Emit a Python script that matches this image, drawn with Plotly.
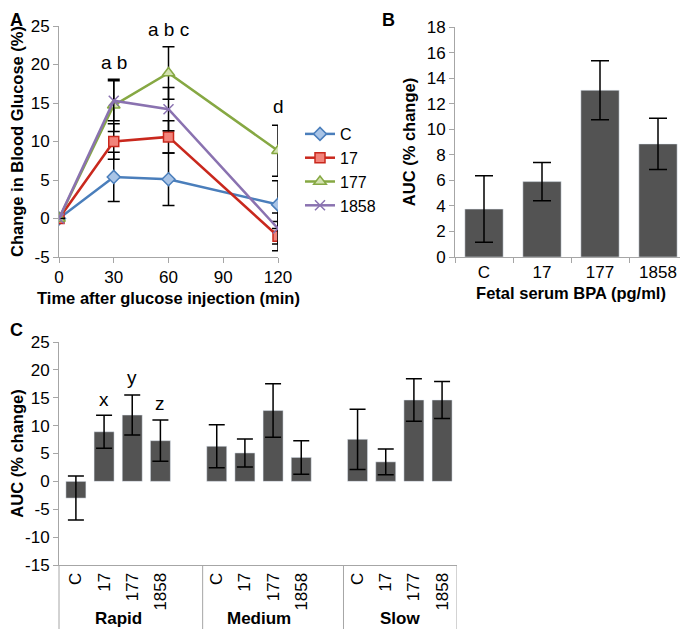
import plotly.graph_objects as go

# ---- data -------------------------------------------------------------
time_min = [0, 30, 60, 120]
groups = ["C", "17", "177", "1858"]

glucose = {
    "C":    [0, 5.4, 5.1, 1.8],
    "17":   [0, 10.0, 10.6, -2.3],
    "177":  [0, 14.7, 18.9, 8.8],
    "1858": [0, 15.3, 14.2, -1.3],
}
glucose_err = {
    "C":    [0, 3.2, 3.4, 3.1],
    "17":   [0, 2.3, 2.1, 1.9],
    "177":  [0, 3.4, 3.4, 3.3],
    "1858": [0, 2.6, 2.8, 2.0],
}
ab_letters = ["a b", "a b c", "d"]
ab_letter_x = [30, 60, 120]
ab_letter_y = [20.2, 24.6, 14.6]

auc_total = [3.75, 5.9, 13.05, 8.85]
auc_total_err = [2.6, 1.5, 2.3, 2.0]

speeds = ["Rapid", "Medium", "Slow"]
auc_speed = {
    "Rapid":  [-3.0, 8.9, 11.9, 7.3],
    "Medium": [6.3, 5.1, 12.7, 4.3],
    "Slow":   [7.55, 3.5, 14.6, 14.6],
}
auc_speed_err = {
    "Rapid":  [3.95, 2.95, 3.6, 3.7],
    "Medium": [3.85, 2.5, 4.8, 3.0],
    "Slow":   [5.4, 2.3, 3.8, 3.3],
}
speed_letters = ["x", "y", "z"]
speed_letter_x = [1, 2, 3]
speed_letter_y = [14.7, 18.7, 14.0]

ticks_a = [-5, 0, 5, 10, 15, 20, 25]
ticks_c = [-15, -10, -5, 0, 5, 10, 15, 20, 25]

# ---- style ------------------------------------------------------------
FONT = "Liberation Sans, Arial, sans-serif"
AXIS_GREY = "#a6a6a6"
BAR = "#535353"
LINE_STYLE = {
    "C":    dict(color="#4a7ebb", fill="#a9c4e6", symbol="diamond", size=10),
    "17":   dict(color="#c9281d", fill="#f2837a", symbol="square", size=10),
    "177":  dict(color="#86a843", fill="#d3e2b0", symbol="triangle-up", size=11),
    "1858": dict(color="#8a72b0", fill="#8a72b0", symbol="x-thin", size=10),
}

W, H = 688, 629
OFF = 8  # page body margin shifts the figure by 8px


def px_x(p):
    return (p - OFF) / W


def px_y(p):
    return 1 - (p - OFF) / H


fig = go.Figure()

# panel A: lines
for g in groups:
    st = LINE_STYLE[g]
    fig.add_trace(go.Scatter(
        x=time_min, y=glucose[g], name=g, mode="lines+markers",
        line=dict(color=st["color"], width=2.5),
        marker=dict(symbol=st["symbol"], size=st["size"], color=st["fill"],
                    line=dict(color=st["color"], width=1.5)),
        error_y=dict(type="data", array=glucose_err[g], color="black",
                     thickness=1.5, width=6),
        xaxis="x", yaxis="y",
    ))

# panel B: total AUC
fig.add_trace(go.Bar(
    x=groups, y=auc_total, marker_color=BAR, width=0.66, showlegend=False,
    error_y=dict(type="data", array=auc_total_err, color="black",
                 thickness=1.5, width=9),
    xaxis="x2", yaxis="y2",
))

# panel C: AUC by speed, each group gets 5 slots (4 bars + gap)
tick_pos, tick_txt = [], []
for k, s in enumerate(speeds):
    pos = [k * 5 + i for i in range(len(groups))]
    tick_pos += pos
    tick_txt += groups
    fig.add_trace(go.Bar(
        x=pos, y=auc_speed[s], marker_color=BAR, width=0.71, showlegend=False,
        error_y=dict(type="data", array=auc_speed_err[s], color="black",
                     thickness=1.5, width=8),
        xaxis="x3", yaxis="y3",
    ))

tick_font = dict(family=FONT, size=17, color="black")
title_font = dict(family=FONT, size=16.5, color="black")
ax_common = dict(showline=True, linecolor=AXIS_GREY, linewidth=1, ticks="outside",
                 tickcolor=AXIS_GREY, ticklen=5, showgrid=False, zeroline=False,
                 tickfont=tick_font, automargin=False)

annotations = []
for t, x, y in zip(ab_letters, ab_letter_x, ab_letter_y):
    annotations.append(dict(text=t, x=x, y=y, xref="x", yref="y", showarrow=False,
                            font=dict(family=FONT, size=19, color="black")))
annotations.append(dict(text="e", x="177", y=16.6, xref="x2", yref="y2", showarrow=False,
                        font=dict(family=FONT, size=19, color="black")))
for t, x, y in zip(speed_letters, speed_letter_x, speed_letter_y):
    annotations.append(dict(text=t, x=x, y=y, xref="x3", yref="y3", showarrow=False,
                            font=dict(family=FONT, size=19, color="black")))
for k, s in enumerate(speeds):
    annotations.append(dict(text="<b>%s</b>" % s, x=k * 5 + 1.5, y=px_y(618),
                            xref="x3", yref="paper", yanchor="middle", showarrow=False,
                            font=dict(family=FONT, size=17, color="black")))
# panel letters (pinned to the top/left edge of the figure)
for lab, x, y, xa, ya in [("A", 8, 8, "left", "top"), ("B", 388, 8, "center", "top"),
                          ("C", 8, 330, "left", "middle")]:
    annotations.append(dict(text="<b>%s</b>" % lab, x=px_x(x), y=px_y(y),
                            xref="paper", yref="paper", xanchor=xa, yanchor=ya,
                            showarrow=False,
                            font=dict(family=FONT, size=18, color="black")))

# group dividers under panel C
shapes = []
for xv in [4.5, 9.5, 13.53]:
    shapes.append(dict(type="line", xref="x3", yref="paper", x0=xv, x1=xv,
                       y0=px_y(565), y1=0, line=dict(color=AXIS_GREY, width=1)))
shapes.append(dict(type="line", xref="paper", yref="paper", x0=px_x(59), x1=px_x(59),
                   y0=px_y(565), y1=0, line=dict(color=AXIS_GREY, width=1)))

fig.update_layout(
    width=W, height=H,
    margin=dict(l=0, r=0, t=0, b=0, autoexpand=False),
    paper_bgcolor="white", plot_bgcolor="white",
    font=dict(family=FONT, color="black"),
    xaxis=dict(domain=[px_x(59), px_x(278)], range=[0, 120], tickvals=[0, 30, 60, 90, 120],
               title=dict(text="<b>Time after glucose injection (min)</b>", font=title_font,
                          standoff=6),
               anchor="y", **ax_common),
    yaxis=dict(domain=[px_y(257), px_y(26)], range=[-5, 25], tickvals=ticks_a,
               ticktext=[str(v) for v in ticks_a],
               title=dict(text="<b>Change in Blood Glucose (%)</b>", font=title_font,
                          standoff=4),
               anchor="x", **ax_common),
    xaxis2=dict(domain=[px_x(455), px_x(687)], range=[-0.5, 3.5], tickson="boundaries",
                title=dict(text="<b>Fetal serum BPA (pg/ml)</b>", font=title_font, standoff=6),
                anchor="y2", **ax_common),
    yaxis2=dict(domain=[px_y(257), px_y(27)], range=[0, 18], dtick=2,
                title=dict(text="<b>AUC (% change)</b>", font=title_font, standoff=6),
                anchor="x2", **ax_common),
    xaxis3=dict(domain=[px_x(59), px_x(457)], range=[-0.6, 13.53], tickvals=tick_pos,
                ticktext=tick_txt, tickangle=-90, anchor="y3", automargin=False,
                showline=True, linecolor=AXIS_GREY, linewidth=1, ticks="",
                showgrid=False, zeroline=False, tickfont=tick_font),
    yaxis3=dict(domain=[px_y(565), px_y(342)], range=[-15, 25], tickvals=ticks_c,
                ticktext=[str(v) for v in ticks_c],
                title=dict(text="<b>AUC (% change)</b>", font=title_font, standoff=1),
                anchor="x3", **ax_common),
    legend=dict(x=px_x(300), y=px_y(117), xanchor="left", yanchor="top",
                font=dict(family=FONT, size=16, color="black"), tracegroupgap=0,
                itemwidth=30, bgcolor="rgba(0,0,0,0)"),
    annotations=annotations,
    shapes=shapes,
    bargap=0.3,
)

fig.write_html("out.html")
